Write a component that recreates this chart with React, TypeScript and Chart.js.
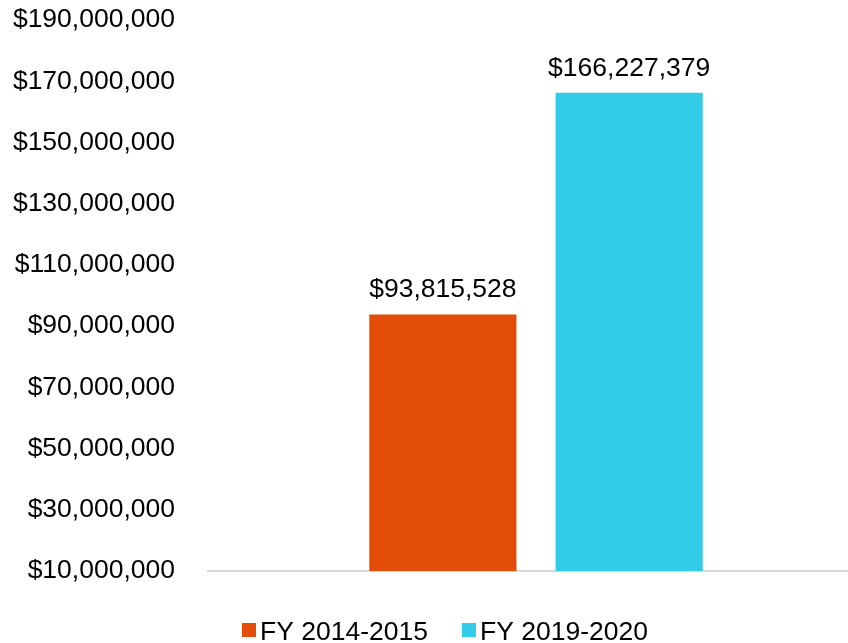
import React, { useEffect, useRef } from 'react';
import { Chart, registerables } from 'chart.js';

Chart.register(...registerables);

// ---- data ----
const categories = [''];
const seriesNames = ['FY 2014-2015', 'FY 2019-2020'];
const fy2015Values = [93815528];
const fy2020Values = [166227379];
const seriesColors = ['#E34C09', '#33CCE8'];
const yMin = 10000000;
const yMax = 190000000;
const yStep = 20000000;

const FONT = "'Liberation Sans', Arial, Helvetica, sans-serif";
const FONT_SIZE = 26.5;
const TEXT_COLOR = '#000000';

const money = (v: number) => '$' + Math.round(v).toLocaleString('en-US');

const valueLabels = {
  id: 'valueLabels',
  afterDatasetsDraw(chart: any) {
    const ctx = chart.ctx;
    ctx.save();
    ctx.font = `${FONT_SIZE}px ${FONT}`;
    ctx.fillStyle = TEXT_COLOR;
    ctx.textAlign = 'center';
    ctx.textBaseline = 'alphabetic';
    chart.data.datasets.forEach((ds: any, i: number) => {
      const meta = chart.getDatasetMeta(i);
      meta.data.forEach((el: any, j: number) => {
        ctx.fillText(money(ds.data[j]), el.x, el.y - 17);
      });
    });
    ctx.restore();
  },
};

const bottomLegend = {
  id: 'bottomLegend',
  afterDraw(chart: any) {
    const ctx = chart.ctx;
    ctx.save();
    ctx.font = `${FONT_SIZE}px ${FONT}`;
    ctx.textAlign = 'left';
    ctx.textBaseline = 'alphabetic';
    let x = 242;
    const boxTop = 623;
    const boxSize = 14;
    const baseline = 640;
    chart.data.datasets.forEach((ds: any) => {
      ctx.fillStyle = ds.backgroundColor;
      ctx.fillRect(x, boxTop, boxSize, boxSize);
      ctx.fillStyle = TEXT_COLOR;
      ctx.fillText(ds.label, x + 18, baseline);
      x += 18 + ctx.measureText(ds.label).width + 34;
    });
    ctx.restore();
  },
};

export default function App() {
  const canvasRef = useRef<HTMLCanvasElement | null>(null);

  useEffect(() => {
    if (!canvasRef.current) return;
    const chart = new Chart(canvasRef.current, {
      type: 'bar',
      data: {
        labels: categories,
        datasets: [
          { label: seriesNames[0], data: fy2015Values, backgroundColor: seriesColors[0] },
          { label: seriesNames[1], data: fy2020Values, backgroundColor: seriesColors[1] },
        ],
      },
      options: {
        responsive: false,
        animation: false,
        layout: { padding: { top: 20, bottom: 72, left: 0, right: 0 } },
        datasets: { bar: { categoryPercentage: 0.568, barPercentage: 0.79 } },
        plugins: {
          legend: { display: false },
          tooltip: { enabled: false },
        },
        scales: {
          x: {
            grid: { display: false, drawTicks: false },
            ticks: { display: false },
            border: { display: true, color: '#D9D9D9', width: 2 },
          },
          y: {
            min: yMin,
            max: yMax,
            grid: { display: false, drawTicks: false },
            border: { display: false },
            ticks: {
              stepSize: yStep,
              padding: 33,
              color: TEXT_COLOR,
              font: { family: FONT, size: FONT_SIZE },
              callback: (v: any) => money(Number(v)),
            },
            afterFit: (s: any) => {
              s.width = 208;
              s.paddingTop = 0;
              s.paddingBottom = 0;
            },
          },
        },
      },
      plugins: [valueLabels, bottomLegend],
    });
    return () => chart.destroy();
  }, []);

  return (
    <div
      style={{
        position: 'fixed',
        left: 0,
        top: 0,
        width: 848,
        height: 643,
        overflow: 'hidden',
        background: '#ffffff',
      }}
    >
      <canvas ref={canvasRef} width={864} height={643} style={{ display: 'block' }} />
    </div>
  );
}
